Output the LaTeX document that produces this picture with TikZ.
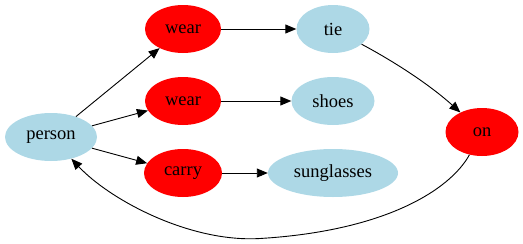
\documentclass[tikz,border=0pt]{standalone}
\usepackage{fontspec}
\setmainfont{Liberation Serif}
\usetikzlibrary{shapes.geometric,arrows.meta}
\definecolor{nodeblue}{RGB}{173,216,230}
\definecolor{nodered}{RGB}{255,0,0}
\tikzset{
  label font/.style={font=\fontsize{18.5pt}{20pt}\selectfont},
  ent/.style={ellipse, fill=nodeblue, inner sep=0pt, minimum height=48pt, label font},
  rel/.style={ellipse, fill=nodered, inner sep=0pt, minimum height=48pt, minimum width=76pt, label font},
  link/.style={draw=black, line width=0.9pt, -{Triangle[length=11pt,width=9pt]}}
}
\begin{document}
\begin{tikzpicture}[x=1pt,y=-1pt]
  \useasboundingbox (0,0) rectangle (523,244);
  % entities
  \node[ent, minimum width=92pt] (person) at (51,137) {person};
  \node[ent, minimum width=73pt] (tie) at (333,29) {tie};
  \node[ent, minimum width=83pt] (shoes) at (333,101) {shoes};
  \node[ent, minimum width=130pt] (sunglasses) at (333,173) {sunglasses};
  % relations
  \node[rel] (wear1) at (183,29) {wear};
  \node[rel] (wear2) at (183,101) {wear};
  \node[rel, minimum width=78pt] (carry) at (183,173) {carry};
  \node[rel, minimum width=73pt] (on) at (482,132) {on};
  % edges
  \draw[link] (person) -- (wear1);
  \draw[link] (person) -- (wear2);
  \draw[link] (person) -- (carry);
  \draw[link] (wear1) -- (tie);
  \draw[link] (wear2) -- (shoes);
  \draw[link] (carry) -- (sunglasses);
  \draw[link] (tie) .. controls (395,62) and (430,85) .. (on);
  \coordinate (low) at (260,238.5);
  \draw[link] (on) .. controls (450,190) and (385,231) .. (low)
                   .. controls (190,242.7) and (110,200) .. (person);
\end{tikzpicture}
\end{document}
